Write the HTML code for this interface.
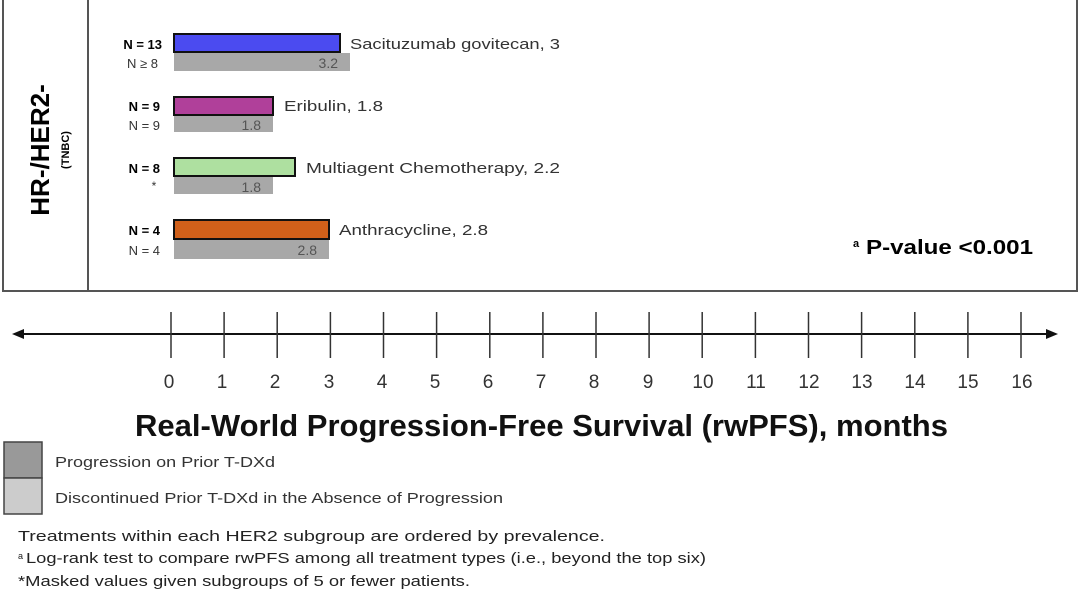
<!DOCTYPE html>
<html><head><meta charset="utf-8"><style>
body{margin:0;background:#fff;width:1080px;height:604px;overflow:hidden;font-family:"Liberation Sans",sans-serif}
</style></head><body>
<svg width="1080" height="604" xmlns="http://www.w3.org/2000/svg" font-family="Liberation Sans, sans-serif">
<rect x="3" y="-2" width="1074" height="293" fill="none" stroke="#555" stroke-width="2"/>
<line x1="88" y1="0" x2="88" y2="291" stroke="#555" stroke-width="2"/>
<text transform="translate(49,150) rotate(-90)" text-anchor="middle" font-size="26" font-weight="bold">HR-/HER2-</text>
<text transform="translate(69,150) rotate(-90)" text-anchor="middle" font-size="11" font-weight="bold">(TNBC)</text>
<!-- bars -->
<rect x="174" y="34" width="166" height="18" fill="#4b4bf0" stroke="#111" stroke-width="2"/>
<rect x="174" y="53" width="176" height="18" fill="#a8a8a8"/>
<text x="338" y="68" font-size="14" fill="#555" text-anchor="end">3.2</text>
<text x="162" y="49" font-size="13" font-weight="bold" text-anchor="end">N = 13</text>
<text x="158" y="68" font-size="13" fill="#333" text-anchor="end">N ≥ 8</text>
<text x="350" y="49" font-size="15" fill="#333" textLength="210" lengthAdjust="spacingAndGlyphs">Sacituzumab govitecan, 3</text>

<rect x="174" y="97" width="99" height="18" fill="#b0409a" stroke="#111" stroke-width="2"/>
<rect x="174" y="116" width="99" height="16" fill="#a8a8a8"/>
<text x="261" y="130" font-size="14" fill="#555" text-anchor="end">1.8</text>
<text x="160" y="111" font-size="13" font-weight="bold" text-anchor="end">N = 9</text>
<text x="160" y="130" font-size="13" fill="#333" text-anchor="end">N = 9</text>
<text x="284" y="111" font-size="15" fill="#333" textLength="99" lengthAdjust="spacingAndGlyphs">Eribulin, 1.8</text>

<rect x="174" y="158" width="121" height="18" fill="#aee0a0" stroke="#111" stroke-width="2"/>
<rect x="174" y="177" width="99" height="17" fill="#a8a8a8"/>
<text x="261" y="192" font-size="14" fill="#555" text-anchor="end">1.8</text>
<text x="160" y="173" font-size="13" font-weight="bold" text-anchor="end">N = 8</text>
<text x="154" y="190" font-size="12" fill="#333" text-anchor="middle">*</text>
<text x="306" y="173" font-size="15" fill="#333" textLength="254" lengthAdjust="spacingAndGlyphs">Multiagent Chemotherapy, 2.2</text>

<rect x="174" y="220" width="155" height="19" fill="#d0601a" stroke="#111" stroke-width="2"/>
<rect x="174" y="240" width="155" height="19" fill="#a8a8a8"/>
<text x="317" y="255" font-size="14" fill="#555" text-anchor="end">2.8</text>
<text x="160" y="235" font-size="13" font-weight="bold" text-anchor="end">N = 4</text>
<text x="160" y="255" font-size="13" fill="#333" text-anchor="end">N = 4</text>
<text x="339" y="235" font-size="15" fill="#333" textLength="149" lengthAdjust="spacingAndGlyphs">Anthracycline, 2.8</text>

<text x="853" y="247" font-size="11" font-weight="bold">a</text>
<text x="866" y="254" font-size="20" font-weight="bold" textLength="167" lengthAdjust="spacingAndGlyphs">P-value &lt;0.001</text>

<!-- axis -->
<line x1="20" y1="334" x2="1050" y2="334" stroke="#111" stroke-width="2"/>
<polygon points="12,334 24,329 24,339" fill="#111"/>
<polygon points="1058,334 1046,329 1046,339" fill="#111"/>
<g stroke="#333" stroke-width="1.5">
<line x1="171" y1="312" x2="171" y2="358"/><line x1="224.1" y1="312" x2="224.1" y2="358"/><line x1="277.2" y1="312" x2="277.2" y2="358"/><line x1="330.4" y1="312" x2="330.4" y2="358"/><line x1="383.5" y1="312" x2="383.5" y2="358"/><line x1="436.6" y1="312" x2="436.6" y2="358"/><line x1="489.8" y1="312" x2="489.8" y2="358"/><line x1="542.9" y1="312" x2="542.9" y2="358"/><line x1="596" y1="312" x2="596" y2="358"/><line x1="649.1" y1="312" x2="649.1" y2="358"/><line x1="702.2" y1="312" x2="702.2" y2="358"/><line x1="755.4" y1="312" x2="755.4" y2="358"/><line x1="808.5" y1="312" x2="808.5" y2="358"/><line x1="861.6" y1="312" x2="861.6" y2="358"/><line x1="914.8" y1="312" x2="914.8" y2="358"/><line x1="967.9" y1="312" x2="967.9" y2="358"/><line x1="1021" y1="312" x2="1021" y2="358"/>
</g>
<g font-size="19" fill="#333" text-anchor="middle">
<text x="169" y="388">0</text><text x="222" y="388">1</text><text x="275" y="388">2</text><text x="329" y="388">3</text><text x="382" y="388">4</text><text x="435" y="388">5</text><text x="488" y="388">6</text><text x="541" y="388">7</text><text x="594" y="388">8</text><text x="648" y="388">9</text><text x="703" y="388">10</text><text x="756" y="388">11</text><text x="809" y="388">12</text><text x="862" y="388">13</text><text x="915" y="388">14</text><text x="968" y="388">15</text><text x="1022" y="388">16</text>
</g>
<text x="135" y="436" font-size="31" font-weight="bold" fill="#111" textLength="813" lengthAdjust="spacingAndGlyphs">Real-World Progression-Free Survival (rwPFS), months</text>

<rect x="4" y="442" width="38" height="36" fill="#999" stroke="#444" stroke-width="1.5"/>
<rect x="4" y="478" width="38" height="36" fill="#ccc" stroke="#444" stroke-width="1.5"/>
<text x="55" y="467" font-size="15" fill="#333" textLength="220" lengthAdjust="spacingAndGlyphs">Progression on Prior T-DXd</text>
<text x="55" y="503" font-size="15" fill="#333" textLength="448" lengthAdjust="spacingAndGlyphs">Discontinued Prior T-DXd in the Absence of Progression</text>
<text x="18" y="541" font-size="15" fill="#222" textLength="587" lengthAdjust="spacingAndGlyphs">Treatments within each HER2 subgroup are ordered by prevalence.</text>
<text x="18" y="559" font-size="9" fill="#222">a</text>
<text x="26" y="563" font-size="15" fill="#222" textLength="680" lengthAdjust="spacingAndGlyphs">Log-rank test to compare rwPFS among all treatment types (i.e., beyond the top six)</text>
<text x="18" y="586" font-size="15" fill="#222" textLength="452" lengthAdjust="spacingAndGlyphs">*Masked values given subgroups of 5 or fewer patients.</text>
</svg>
</body></html>
